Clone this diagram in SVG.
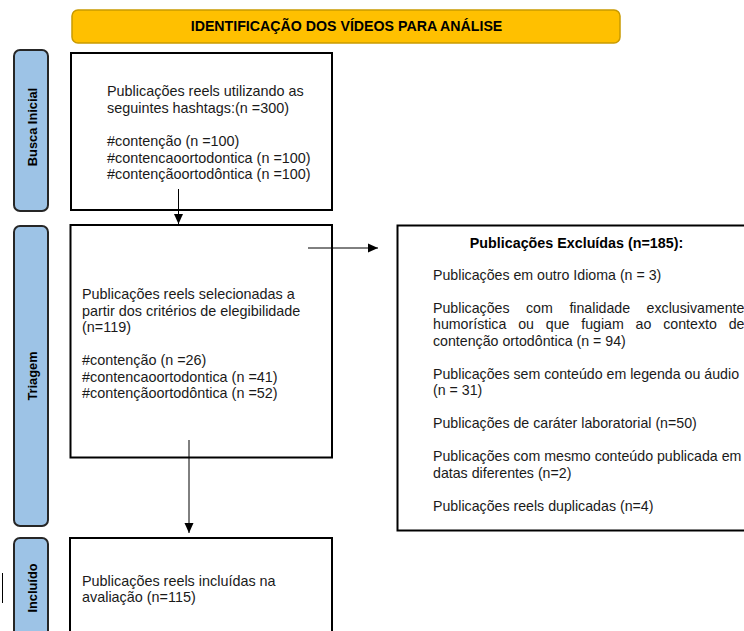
<svg xmlns="http://www.w3.org/2000/svg" width="744" height="631" viewBox="0 0 744 631">
<style>
.t{font-family:"Liberation Sans",Arial,sans-serif;font-size:14.4px;fill:#1a1a1a}
.e{font-size:14.2px}
.b{font-family:"Liberation Sans",Arial,sans-serif;font-weight:bold;fill:#000}
.side{fill:#9DC3E6;stroke:#262626;stroke-width:2}
.box{fill:#fff;stroke:#000;stroke-width:2}
.con{stroke:#000;stroke-width:1;fill:none}
</style>
<defs>
<marker id="ah" markerUnits="userSpaceOnUse" markerWidth="10" markerHeight="10" viewBox="0 0 10 10" refX="10" refY="5" orient="auto">
<path d="M0,0.5 L10,5 L0,9.5 Z" fill="#000"/>
</marker>
</defs>
<rect width="744" height="631" fill="#fff"/>
<g id="header">
<rect x="72" y="10" width="548" height="33" rx="6" fill="#FFC000" stroke="#C99A00" stroke-width="1.5"/>
<text class="b" x="346.5" y="31" font-size="14.2" text-anchor="middle">IDENTIFICAÇÃO DOS VÍDEOS PARA ANÁLISE</text>
</g>
<g id="side-busca">
<rect class="side" x="14" y="50" width="34" height="161" rx="6"/>
<text class="b" font-size="12.8" text-anchor="middle" transform="translate(36.5,127) rotate(-90)">Busca Inicial</text>
</g>
<g id="side-triagem">
<rect class="side" x="14" y="226" width="34" height="300" rx="6"/>
<text class="b" font-size="12.8" text-anchor="middle" transform="translate(36.5,376) rotate(-90)">Triagem</text>
</g>
<g id="side-incluido">
<rect class="side" x="14" y="538" width="34" height="110" rx="6"/>
<text class="b" font-size="12.8" text-anchor="middle" transform="translate(36.5,588) rotate(-90)">Incluído</text>
</g>
<g id="box-busca">
<rect class="box" x="71" y="53" width="261" height="157"/>
<text class="t" x="107" y="96">Publicações reels utilizando as</text>
<text class="t" x="107" y="112.5">seguintes hashtags:(n =300)</text>
<text class="t" x="107" y="146">#contenção (n =100)</text>
<text class="t" x="107" y="162.5">#contencaoortodontica (n =100)</text>
<text class="t" x="107" y="179">#contençãoortodôntica (n =100)</text>
</g>
<g id="box-triagem">
<rect class="box" x="70.5" y="225" width="261.5" height="232.5"/>
<text class="t" x="82" y="299">Publicações reels selecionadas a</text>
<text class="t" x="82" y="315.5">partir dos critérios de elegibilidade</text>
<text class="t" x="82" y="332">(n=119)</text>
<text class="t" x="82" y="365">#contenção (n =26)</text>
<text class="t" x="82" y="381.5">#contencaoortodontica (n =41)</text>
<text class="t" x="82" y="398">#contençãoortodôntica (n =52)</text>
</g>
<g id="box-incluido">
<rect class="box" x="70" y="538" width="262" height="110"/>
<text class="t" x="82" y="585.5">Publicações reels incluídas na</text>
<text class="t" x="82" y="602">avaliação (n=115)</text>
</g>
<g id="box-excluidas">
<rect class="box" x="397.5" y="225.5" width="360" height="305"/>
<text class="b" x="576.5" y="248" font-size="14.3" text-anchor="middle">Publicações Excluídas (n=185):</text>
<text class="t e" x="433" y="279.5">Publicações em outro Idioma (n = 3)</text>
<text class="t e" y="312.5"><tspan x="433">Publicações</tspan><tspan x="526">com</tspan><tspan x="569.4">finalidade</tspan><tspan x="646.6">exclusivamente</tspan></text>
<text class="t e" y="329"><tspan x="433">humorística</tspan><tspan x="518.2">ou</tspan><tspan x="545.8">que</tspan><tspan x="581.2">fugiam</tspan><tspan x="635.6">ao</tspan><tspan x="663.2">contexto</tspan><tspan x="728.7">de</tspan></text>
<text class="t e" x="433" y="345.5">contenção ortodôntica (n = 94)</text>
<text class="t e" x="433" y="378.5">Publicações sem conteúdo em legenda ou áudio</text>
<text class="t e" x="433" y="395">(n = 31)</text>
<text class="t e" x="433" y="428">Publicações de caráter laboratorial (n=50)</text>
<text class="t e" x="433" y="461">Publicações com mesmo conteúdo publicada em</text>
<text class="t e" x="433" y="477.5">datas diferentes (n=2)</text>
<text class="t e" x="433" y="510.5">Publicações reels duplicadas (n=4)</text>
</g>
<g id="connectors">
<line class="con" x1="178.5" y1="189" x2="178.5" y2="224" marker-end="url(#ah)"/>
<line class="con" x1="189" y1="440" x2="189" y2="533" marker-end="url(#ah)"/>
<line class="con" x1="308" y1="248" x2="378" y2="248" marker-end="url(#ah)"/>
</g>
<line x1="2.5" y1="573" x2="2.5" y2="603" stroke="#000" stroke-width="1"/>
</svg>
